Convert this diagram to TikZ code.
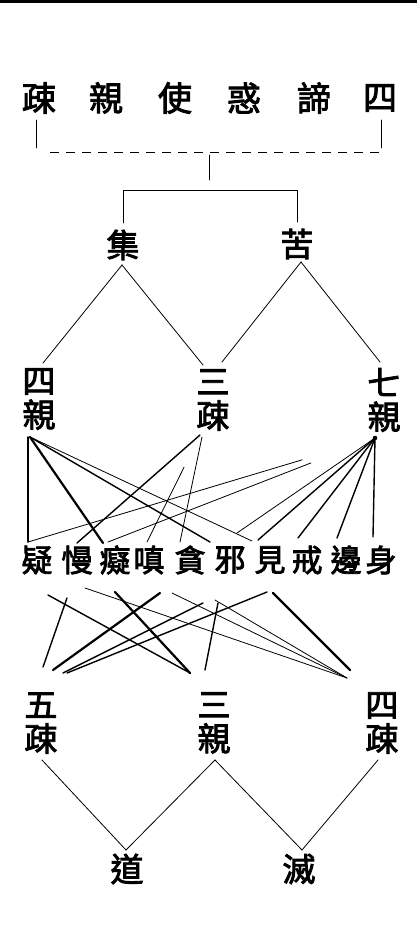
\documentclass[tikz,border=0pt]{standalone}
\usepackage{fontspec}
\newfontfamily\cjk[FakeBold=2.6]{Noto Sans CJK TC}
\usetikzlibrary{calc}
\begin{document}
\begin{tikzpicture}[x=1pt,y=-1pt,
  ch/.style={inner sep=0pt, font=\cjk\fontsize{33}{34}\selectfont, align=center},
  chtop/.style={inner sep=0pt, font=\cjk\fontsize{34}{36}\selectfont},
  chmid/.style={inner sep=0pt, font=\cjk\fontsize{31}{33}\selectfont},
  thinln/.style={line width=0.8pt, line cap=round},
  medln/.style={line width=1.4pt, line cap=round},
  thickln/.style={line width=2.2pt, line cap=round}]
\useasboundingbox (0,0) rectangle (417,948);
\fill[white] (0,0) rectangle (417,948);
\fill[black] (0,0) rectangle (417,2.5);
% top row
\node[chtop] (t1) at (39,98) {疎};
\node[chtop] (t2) at (106,98) {親};
\node[chtop] (t3) at (175,98) {使};
\node[chtop] (t4) at (244,98) {惑};
\node[chtop] (t5) at (314,98) {諦};
\node[chtop] (t6) at (380,98) {四};
% second row
\node[ch] (ji) at (123,245) {集};
\node[ch] (ku) at (297,244) {苦};
% third row
\node[ch] (siqin) at (39,399) {四\\親};
\node[ch] (sanshu) at (213,400) {三\\疎};
\node[ch] (qiqin) at (384,400) {七\\親};
% middle row
\node[chmid] (m1) at (37,560) {疑};
\node[chmid] (m2) at (77,560) {慢};
\node[chmid] (m3) at (115,560) {癡};
\node[chmid] (m4) at (149,560) {嗔};
\node[chmid] (m5) at (190,560) {貪};
\node[chmid] (m6) at (230,560) {邪};
\node[chmid] (m7) at (270,560) {見};
\node[chmid] (m8) at (307,560) {戒};
\node[chmid] (m9) at (346,560) {邊};
\node[chmid] (m10) at (381,560) {身};
% lower rows
\node[ch] (wushu) at (41,723) {五\\疎};
\node[ch] (sanqin) at (214,723) {三\\親};
\node[ch] (sishu) at (382,723) {四\\疎};
\node[ch] (dao) at (127,869) {道};
\node[ch] (mie) at (299,869) {滅};

% brackets at the top
\coordinate (bl) at ([shift={(-3,54)}]t1.center);
\coordinate (br) at ([shift={(1,54)}]t6.center);
\draw[thinln] ([shift={(-3,22)}]t1.center) -- ([shift={(-3,50)}]t1.center);
\draw[thinln] ([shift={(1,22)}]t6.center) -- ([shift={(1,50)}]t6.center);
\draw[line width=0.8pt, dash pattern=on 9pt off 7pt] ([shift={(14,0)}]bl) -- (br);
\coordinate (cm) at ($(bl)!0.5!(br)$);
\draw[thinln] ([shift={(1,3)}]cm) -- ([shift={(1,28)}]cm);
\coordinate (bj) at ([shift={(0,-55)}]ji.center);
\coordinate (bk) at ([shift={(0,-54)}]ku.center);
\draw[thinln] ([shift={(0,-22)}]ji.center) -- (bj) -- (bk) -- ([shift={(0,-22)}]ku.center);

% second to third row
\draw[thinln] ([shift={(-1,20)}]ji.center) -- ([shift={(4,-36)}]siqin.center);
\draw[thinln] ([shift={(-1,20)}]ji.center) -- ([shift={(-10,-35)}]sanshu.center);
\draw[thinln] ([shift={(4,18)}]ku.center) -- ([shift={(9,-38)}]sanshu.center);
\draw[thinln] ([shift={(4,18)}]ku.center) -- ([shift={(-4,-38)}]qiqin.center);

% third row to middle row
\coordinate (qd) at ([shift={(-9,38)}]qiqin.center);
\fill (qd) circle (2.3);
\coordinate (yiT) at ([shift={(-9,-18)}]m1.center);
\coordinate (chiT) at ([shift={(-7,-18)}]m3.center);
\draw[thinln] (yiT) -- ($(yiT)!0.79!(qd)$);
\draw[thinln] (chiT) -- ($(chiT)!0.76!(qd)$);
\coordinate (sq) at ([shift={(-9,38)}]siqin.center);
\draw[medln] ([shift={(-11,38)}]siqin.center) -- (yiT);
\draw[thickln] (sq) -- ([shift={(-12,-17)}]m3.center);
\draw[medln] (sq) -- ([shift={(-20,-18)}]m6.center);
\draw[thinln] (sq) -- ([shift={(-18,-19)}]m7.center);
\coordinate (sqa) at ([shift={(-13,35)}]sanshu.center);
\coordinate (chenT) at ([shift={(-2,-18)}]m4.center);
\draw[medln] (sqa) -- ([shift={(0,-17)}]m2.center);
\draw[thinln] ($(sqa)!0.3!(chenT)$) -- (chenT);
\draw[thinln] ([shift={(-11,37)}]sanshu.center) -- ([shift={(-10,-18)}]m5.center);
\draw[medln] (qd) -- ([shift={(-8,-23)}]m10.center);
\draw[medln] (qd) -- ([shift={(-9,-22)}]m9.center);
\draw[medln] (qd) -- ([shift={(-9,-22)}]m8.center);
\draw[medln] (qd) -- ([shift={(-12,-20)}]m7.center);
\draw[thinln] (qd) -- ([shift={(7,-27)}]m6.center);

% middle row to lower row
\draw[medln] ([shift={(11,35)}]m1.center) -- ([shift={(-24,-50)}]sanqin.center);
\draw[medln] ([shift={(-10,38)}]m2.center) -- ([shift={(2,-56)}]wushu.center);
\draw[thinln] ([shift={(8,28)}]m2.center) -- ([shift={(-35,-45)}]sishu.center);
\draw[thickln] ([shift={(0,32)}]m3.center) -- ([shift={(-24,-50)}]sanqin.center);
\draw[thickln] ([shift={(11,33)}]m4.center) -- ([shift={(12,-53)}]wushu.center);
\draw[thinln] ([shift={(23,33)}]m4.center) -- ([shift={(-35,-45)}]sishu.center);
\draw[medln] ([shift={(13,43)}]m5.center) -- ([shift={(22,-50)}]wushu.center);
\draw[thinln] ([shift={(25,40)}]m5.center) -- ([shift={(-35,-45)}]sishu.center);
\draw[medln] ([shift={(-12,43)}]m6.center) -- ([shift={(-9,-53)}]sanqin.center);
\draw[medln] ([shift={(-3,32)}]m7.center) -- ([shift={(26,-50)}]wushu.center);
\draw[thickln] ([shift={(3,33)}]m7.center) -- ([shift={(-32,-53)}]sishu.center);

% lower row to bottom
\draw[thinln] ([shift={(1,37)}]wushu.center) -- ([shift={(-1,-19)}]dao.center);
\draw[thinln] ([shift={(1,37)}]sanqin.center) -- ([shift={(-1,-19)}]dao.center);
\draw[thinln] ([shift={(1,37)}]sanqin.center) -- ([shift={(3,-19)}]mie.center);
\draw[thinln] ([shift={(-4,37)}]sishu.center) -- ([shift={(3,-19)}]mie.center);
\end{tikzpicture}
\end{document}
